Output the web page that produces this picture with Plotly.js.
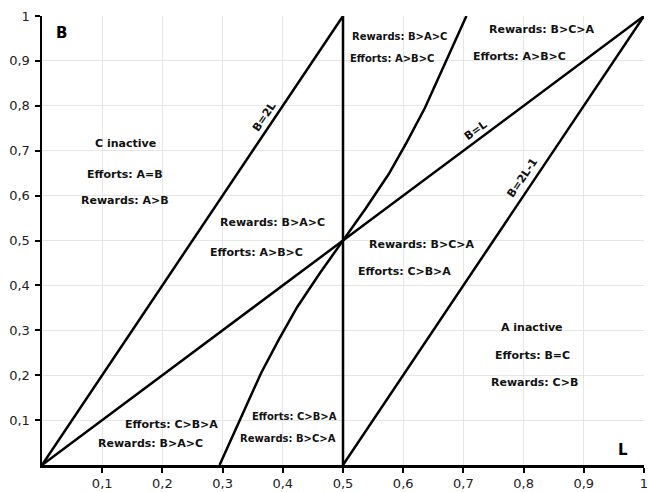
<!DOCTYPE html>
<html>
<head>
<meta charset="utf-8">
<script src="https://cdn.plot.ly/plotly-3.0.1.min.js"></script>
<style>html,body{margin:0;padding:0;background:#fff}#chart{width:649px;height:492px}</style>
</head>
<body>
<div id="chart"></div>
<script>
// Boundary lines (L, B)
const lineB2L_L = [0, 0.5];
const lineB2L_B = [0, 1];
const lineBL_L = [0, 1];
const lineBL_B = [0, 1];
const lineB2L1_L = [0.5, 1];
const lineB2L1_B = [0, 1];
const lineHalf_L = [0.5, 0.5];
const lineHalf_B = [0, 1];
// Curved boundary
const curve_L = [0.295, 0.33, 0.364, 0.394, 0.424, 0.462, 0.5, 0.538, 0.576, 0.606, 0.636, 0.67, 0.705];
const curve_B = [0, 0.105, 0.205, 0.281, 0.352, 0.428, 0.5, 0.572, 0.648, 0.719, 0.795, 0.895, 1];

const tickVals = [0.1, 0.2, 0.3, 0.4, 0.5, 0.6, 0.7, 0.8, 0.9, 1];
const tickText = ['0,1', '0,2', '0,3', '0,4', '0,5', '0,6', '0,7', '0,8', '0,9', '1'];

// Region labels
const labelText = ['C inactive', 'Efforts: A=B', 'Rewards: A>B',
  'Rewards: B>A>C', 'Efforts: A>B>C',
  'Rewards: B>C>A', 'Efforts: C>B>A',
  'Rewards: B>A>C', 'Efforts: A>B>C',
  'Rewards: B>C>A', 'Efforts: A>B>C',
  'A inactive', 'Efforts: B=C', 'Rewards: C>B',
  'Efforts: C>B>A', 'Rewards: B>A>C',
  'Efforts: C>B>A', 'Rewards: B>C>A'];
const labelL = [0.138, 0.138, 0.138,
  0.383, 0.357,
  0.630, 0.602,
  0.594, 0.582,
  0.829, 0.793,
  0.814, 0.814, 0.818,
  0.215, 0.181,
  0.419, 0.409];
const labelB = [0.715, 0.646, 0.588,
  0.539, 0.474,
  0.492, 0.430,
  0.955, 0.906,
  0.971, 0.909,
  0.307, 0.245, 0.183,
  0.091, 0.047,
  0.109, 0.058];
const labelSize = [11, 11, 11,
  11, 11,
  11, 11,
  10, 10,
  11, 11,
  11, 11, 11,
  11, 11,
  10, 10];

// Line labels
const lineLabelText = ['B=2L', 'B=L', 'B=2L-1'];
const lineLabelL = [0.368, 0.72, 0.797];
const lineLabelB = [0.775, 0.746, 0.639];
const lineLabelAngle = [-56, -36, -56];

const FONT = 'DejaVu Sans, Verdana, sans-serif';
const lineStyle = {color: '#000', width: 2.5};
const mk = (x, y) => ({x: x, y: y, type: 'scatter', mode: 'lines', line: lineStyle, hoverinfo: 'skip', showlegend: false, cliponaxis: false});
const traces = [
  mk(lineB2L_L, lineB2L_B),
  mk(lineBL_L, lineBL_B),
  mk(lineB2L1_L, lineB2L1_B),
  mk(lineHalf_L, lineHalf_B),
  mk(curve_L, curve_B)
];

const annotations = [];
labelText.forEach((t, i) => annotations.push({
  x: labelL[i], y: labelB[i], xref: 'x', yref: 'y', text: '<b>' + t + '</b>',
  showarrow: false, font: {family: FONT, size: labelSize[i], color: '#111'}
}));
lineLabelText.forEach((t, i) => annotations.push({
  x: lineLabelL[i], y: lineLabelB[i], xref: 'x', yref: 'y', text: '<b>' + t + '</b>',
  showarrow: false, textangle: lineLabelAngle[i], font: {family: FONT, size: 11, color: '#111'}
}));
annotations.push({x: 0.033, y: 0.962, xref: 'x', yref: 'y', text: '<b>B</b>', showarrow: false, font: {family: FONT, size: 15, color: '#000'}});
annotations.push({x: 0.965, y: 0.033, xref: 'x', yref: 'y', text: '<b>L</b>', showarrow: false, font: {family: FONT, size: 15, color: '#000'}});

const axisCommon = {
  range: [0, 1], tickvals: tickVals, ticktext: tickText,
  showgrid: true, gridcolor: '#e6e6e6', gridwidth: 1,
  showline: true, linecolor: '#000', linewidth: 2.5,
  ticks: 'outside', ticklen: 5, tickwidth: 2, tickcolor: '#000',
  zeroline: false, fixedrange: true,
  tickfont: {family: FONT, size: 13, color: '#222'}
};

const layout = {
  width: 649, height: 492,
  margin: {l: 42, r: 5, t: 16, b: 27},
  paper_bgcolor: '#fff', plot_bgcolor: '#fff',
  separators: ',.',
  xaxis: Object.assign({}, axisCommon, {ticklabelstandoff: 0}),
  yaxis: Object.assign({}, axisCommon, {ticklabelstandoff: 2}),
  annotations: annotations,
  showlegend: false
};

Plotly.newPlot('chart', traces, layout, {displayModeBar: false, staticPlot: true});
</script>
</body>
</html>
